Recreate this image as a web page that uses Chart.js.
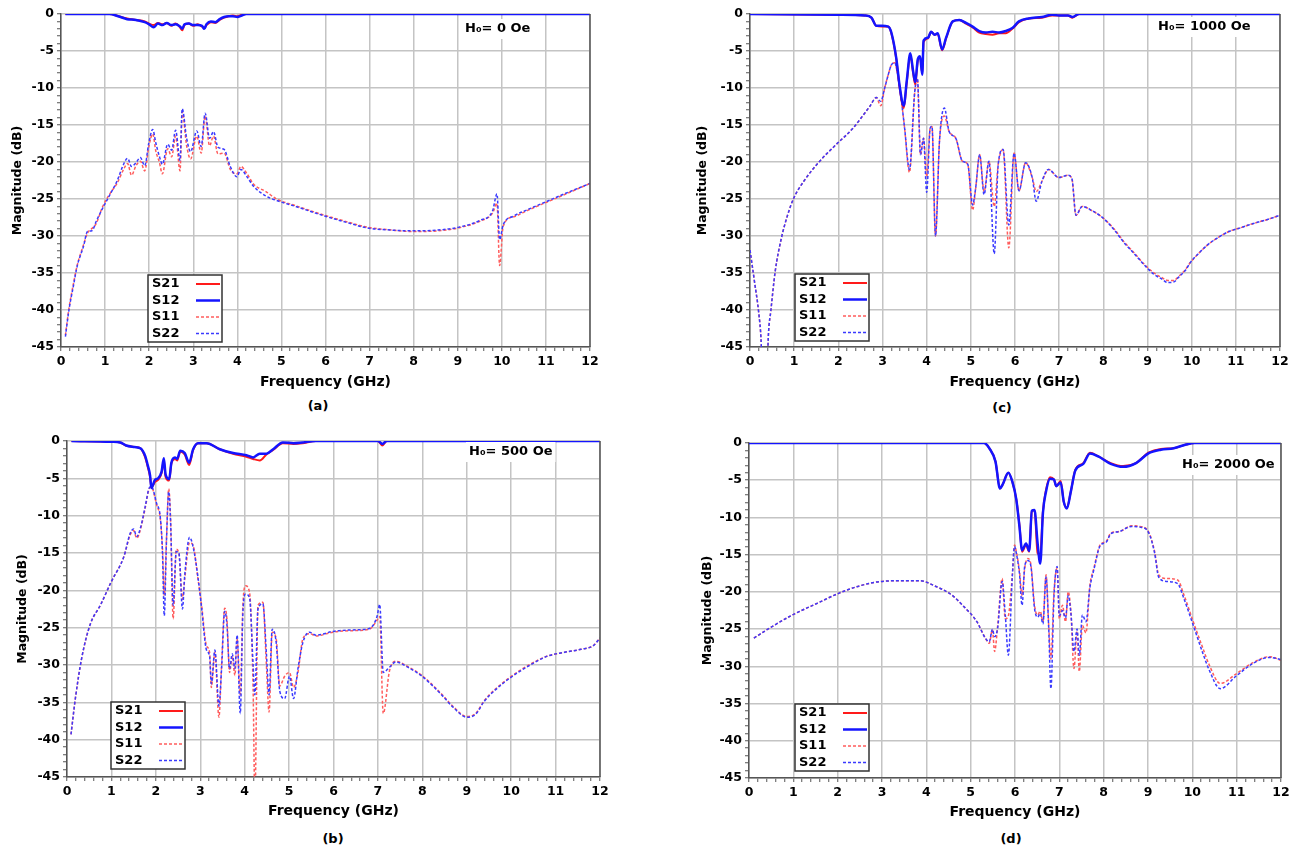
<!DOCTYPE html>
<html>
<head>
<meta charset="utf-8">
<script src="https://cdn.jsdelivr.net/npm/chart.js@4.4.0/dist/chart.umd.min.js"></script>
<style>
  body { margin: 0; background: #fff; width: 1315px; height: 851px; position: relative; overflow: hidden; }
  canvas { position: absolute; }
  .cap { position: absolute; font: bold 13px 'DejaVu Sans', sans-serif; color: #000; transform: translate(-50%, -50%); }
</style>
</head>
<body>
<canvas id="chartA"></canvas>
<canvas id="chartB"></canvas>
<canvas id="chartC"></canvas>
<canvas id="chartD"></canvas>
<div class="cap" style="left:318px;top:405px">(a)</div>
<div class="cap" style="left:1002px;top:407px">(c)</div>
<div class="cap" style="left:333px;top:838px">(b)</div>
<div class="cap" style="left:1011px;top:838px">(d)</div>
<script>
// ── Datos ─────────────────────────────────────────────────────────────────────

const seriesLabels = ["S21", "S12", "S11", "S22"];

// (a) H0 = 0 Oe
const freqT_a = [0.1, 1.1, 1.3, 1.5, 1.7, 1.9, 2.0, 2.1, 2.2, 2.3, 2.4, 2.5, 2.6, 2.7, 2.75, 2.8, 2.9, 3.0, 3.1, 3.2, 3.25, 3.3, 3.4, 3.5, 3.6, 3.7, 3.8, 3.9, 4.0, 4.1, 4.2, 12];
const s21_a   = [0, 0, -0.3, -0.6, -0.8, -1.0, -1.3, -1.5, -1.2, -1.4, -1.2, -1.6, -1.3, -1.8, -2.2, -1.5, -1.3, -1.6, -1.4, -1.7, -1.9, -1.5, -1.1, -1.2, -0.8, -0.5, -0.3, -0.2, -0.3, -0.1, 0, 0];
const s12_a   = [0, 0, -0.3, -0.7, -0.8, -1.1, -1.4, -1.8, -1.3, -1.5, -1.2, -1.5, -1.4, -1.7, -2.0, -1.4, -1.3, -1.5, -1.5, -1.6, -2.0, -1.4, -1.0, -1.1, -0.7, -0.4, -0.3, -0.3, -0.4, -0.2, 0, 0];
const freqR_a = [0.1, 0.18, 0.28, 0.37, 0.51, 0.6, 0.7, 0.8, 0.94, 1.13, 1.27, 1.42, 1.51, 1.6, 1.7, 1.8, 1.9, 1.99, 2.08, 2.15, 2.23, 2.3, 2.42, 2.51, 2.6, 2.7, 2.75, 2.85, 2.94, 3.08, 3.18, 3.27, 3.37, 3.46, 3.56, 3.7, 3.84, 3.99, 4.08, 4.22, 4.37, 4.65, 4.89, 5.32, 5.98, 6.5, 6.94, 7.5, 7.98, 8.55, 9.03, 9.5, 9.79, 9.89, 9.95, 10.03, 10.27, 10.6, 11.03, 11.5, 12];
const s11_a   = [-43.4, -39.8, -36.5, -33.9, -31.2, -29.6, -29.0, -28.3, -26.1, -24.1, -22.9, -21.0, -20.2, -21.8, -20.5, -19.9, -21.2, -18.0, -16.2, -18.5, -20.0, -21.6, -18.2, -19.3, -16.5, -21.2, -13.2, -17.8, -19.6, -16.5, -18.8, -13.8, -17.8, -16.5, -18.9, -18.8, -21.0, -21.6, -20.6, -21.6, -23.0, -24.0, -25.0, -25.9, -27.2, -28.1, -28.8, -29.2, -29.4, -29.3, -28.9, -28.0, -26.9, -25.6, -34.0, -28.7, -27.4, -26.5, -25.4, -24.2, -22.9];
const s22_a   = [-43.6, -40.0, -36.8, -34.0, -31.4, -29.4, -29.3, -28.0, -26.3, -24.2, -22.6, -20.3, -19.5, -20.6, -20.1, -19.4, -20.5, -17.5, -15.6, -17.4, -19.2, -20.3, -17.6, -18.4, -15.7, -19.8, -12.8, -16.8, -18.6, -15.8, -17.9, -13.4, -16.8, -15.9, -18.0, -18.3, -20.6, -22.0, -21.0, -22.0, -23.3, -24.6, -25.2, -26.0, -27.3, -28.2, -28.9, -29.2, -29.3, -29.2, -28.8, -27.9, -26.6, -24.3, -30.5, -28.5, -27.3, -26.4, -25.3, -24.1, -22.9];

// (c) H0 = 1000 Oe
const freqT_c = [0, 2.0, 2.6, 2.75, 2.86, 2.98, 3.13, 3.2, 3.31, 3.39, 3.48, 3.55, 3.63, 3.69, 3.74, 3.8, 3.85, 3.9, 3.93, 4.03, 4.1, 4.18, 4.25, 4.35, 4.44, 4.59, 4.74, 4.89, 5.04, 5.19, 5.34, 5.49, 5.64, 5.79, 5.94, 6.09, 6.31, 6.61, 6.84, 7.0, 7.2, 7.3, 7.45, 12];
const s21_c   = [0, -0.1, -0.2, -0.5, -1.6, -1.7, -1.7, -2.6, -6.0, -10.0, -12.7, -9.2, -5.5, -7.8, -9.5, -6.3, -5.8, -8.0, -3.8, -3.3, -2.4, -2.8, -2.7, -4.9, -3.3, -1.0, -0.8, -1.3, -1.8, -2.5, -2.7, -2.8, -2.6, -2.6, -2.0, -1.1, -0.6, -0.5, -0.2, -0.2, -0.2, -0.5, 0, 0];
const s12_c   = [0, -0.1, -0.2, -0.5, -1.6, -1.6, -1.7, -2.5, -5.9, -9.8, -12.4, -9.0, -5.3, -7.6, -9.2, -6.1, -5.7, -8.2, -3.6, -3.2, -2.4, -2.8, -2.6, -4.8, -3.2, -1.0, -0.8, -1.2, -1.7, -2.3, -2.5, -2.4, -2.5, -2.3, -1.9, -1.0, -0.6, -0.4, -0.1, -0.2, -0.2, -0.4, 0, 0];
const freqR_c = [0, 0.1, 0.2, 0.25, 0.3, 0.36, 0.42, 0.47, 0.57, 0.71, 0.85, 0.99, 1.23, 1.56, 1.94, 2.32, 2.71, 2.86, 2.96, 3.05, 3.13, 3.2, 3.28, 3.33, 3.43, 3.5, 3.61, 3.73, 3.79, 3.86, 3.93, 4.0, 4.08, 4.12, 4.2, 4.29, 4.4, 4.51, 4.66, 4.81, 4.93, 5.04, 5.11, 5.2, 5.3, 5.41, 5.53, 5.62, 5.73, 5.86, 5.98, 6.09, 6.24, 6.39, 6.48, 6.61, 6.76, 6.99, 7.2, 7.29, 7.38, 7.52, 7.75, 8.0, 8.25, 8.47, 8.7, 8.94, 9.15, 9.32, 9.46, 9.6, 9.7, 9.85, 9.98, 10.15, 10.36, 10.6, 10.84, 11.1, 11.4, 11.7, 12];
const s11_c   = [-31.9, -36.1, -40.5, -44, -52, -52, -43, -40.2, -34.8, -30.3, -27.2, -24.9, -22.5, -20.0, -17.7, -15.5, -12.5, -11.3, -12.4, -10.0, -8.2, -6.9, -6.6, -7.8, -11.8, -15.4, -21.4, -10.5, -8.7, -19.0, -16.8, -22.0, -15.4, -15.2, -30.0, -17.2, -13.8, -15.9, -16.8, -19.9, -20.3, -26.5, -23.5, -19.0, -24.0, -19.9, -26.0, -20.3, -18.3, -31.6, -18.8, -23.9, -20.1, -22.1, -24.0, -22.6, -21.0, -22.1, -21.8, -22.3, -27.2, -26.0, -26.6, -27.6, -29.1, -30.8, -32.3, -33.9, -35.0, -35.6, -36.0, -36.0, -35.5, -34.6, -33.5, -32.4, -31.2, -30.2, -29.4, -28.9, -28.3, -27.8, -27.2];
const s22_c   = [-31.9, -36.1, -40.5, -44, -52, -52, -43, -40.2, -34.8, -30.3, -27.2, -24.9, -22.5, -20.0, -17.7, -15.5, -12.5, -11.3, -11.8, -10.0, -8.2, -6.9, -6.6, -7.8, -11.8, -15.4, -21.0, -10.5, -8.7, -19.0, -16.8, -24.1, -15.4, -15.2, -30.0, -17.2, -12.7, -15.9, -16.8, -19.9, -20.3, -25.8, -23.5, -19.0, -24.4, -19.9, -32.4, -20.3, -18.3, -28.5, -18.8, -23.9, -20.1, -22.1, -25.3, -22.6, -21.0, -22.1, -21.8, -22.3, -27.2, -26.0, -26.6, -27.6, -29.2, -30.9, -32.4, -34.0, -35.2, -35.8, -36.3, -36.2, -35.6, -34.7, -33.5, -32.4, -31.2, -30.2, -29.4, -28.9, -28.3, -27.8, -27.2];

// (b) H0 = 500 Oe
const freqT_b = [0.1, 1.0, 1.2, 1.33, 1.52, 1.66, 1.76, 1.82, 1.87, 1.9, 1.98, 2.05, 2.13, 2.18, 2.22, 2.3, 2.35, 2.43, 2.48, 2.55, 2.65, 2.75, 2.84, 2.95, 3.14, 3.44, 3.74, 4.04, 4.19, 4.34, 4.49, 4.64, 4.86, 5.1, 5.3, 5.6, 7.0, 7.1, 7.2, 12];
const s21_b   = [0, -0.1, -0.2, -0.6, -0.8, -1.0, -2.2, -3.5, -4.8, -6.2, -5.5, -5.2, -4.3, -2.6, -4.8, -5.3, -3.0, -2.4, -2.6, -1.4, -1.8, -3.2, -1.2, -0.3, -0.3, -1.1, -1.7, -2.1, -2.4, -2.6, -1.8, -1.2, -0.3, -0.4, -0.3, 0, 0, -0.6, 0, 0];
const s12_b   = [0, -0.1, -0.2, -0.6, -0.8, -1.0, -2.0, -3.3, -4.6, -6.3, -5.2, -5.0, -4.1, -2.3, -4.5, -5.1, -2.9, -2.2, -2.4, -1.3, -1.6, -2.9, -1.1, -0.3, -0.3, -1.1, -1.6, -1.9, -2.2, -1.7, -1.7, -1.1, -0.2, -0.3, -0.2, 0, 0, -0.4, 0, 0];
const freqR_b = [0.09, 0.19, 0.33, 0.52, 0.76, 1.0, 1.28, 1.42, 1.5, 1.57, 1.66, 1.76, 1.85, 1.9, 2.02, 2.1, 2.15, 2.19, 2.24, 2.29, 2.33, 2.39, 2.46, 2.52, 2.6, 2.65, 2.76, 2.84, 2.95, 3.03, 3.14, 3.21, 3.25, 3.33, 3.42, 3.48, 3.55, 3.6, 3.66, 3.72, 3.78, 3.83, 3.9, 3.96, 4.02, 4.11, 4.19, 4.23, 4.3, 4.41, 4.49, 4.55, 4.62, 4.71, 4.79, 4.9, 5.01, 5.1, 5.2, 5.31, 5.46, 5.61, 5.99, 6.44, 6.81, 6.98, 7.04, 7.12, 7.26, 7.4, 7.7, 7.97, 8.2, 8.45, 8.7, 9.0, 9.2, 9.39, 9.65, 9.96, 10.4, 10.82, 11.2, 11.57, 11.85, 12];
const s11_b   = [-39.3, -34.4, -29.1, -24.6, -21.9, -18.8, -15.5, -12.6, -12.0, -13.0, -11.7, -9.0, -6.4, -6.2, -8.6, -10.4, -14.5, -20.7, -13.1, -6.4, -10.0, -23.8, -14.5, -15.1, -21.2, -18.5, -13.6, -14.0, -18.5, -22.0, -27.4, -28.3, -33.0, -28.3, -37.0, -30.1, -22.4, -23.8, -31.0, -28.8, -31.4, -26.5, -34.0, -22.0, -19.4, -20.3, -33.2, -48.0, -22.0, -21.6, -30.1, -36.3, -25.6, -26.5, -32.8, -31.5, -31.0, -33.0, -31.0, -26.5, -25.8, -26.1, -25.6, -25.4, -25.2, -24.0, -23.5, -36.5, -30.8, -29.5, -30.3, -31.3, -32.5, -34.0, -35.6, -36.9, -36.5, -34.8, -33.2, -31.7, -30.0, -28.8, -28.3, -27.9, -27.4, -26.4];
const s22_b   = [-39.3, -34.4, -29.1, -24.6, -21.9, -18.8, -15.5, -12.4, -11.8, -12.8, -11.5, -8.8, -6.3, -6.1, -8.4, -10.2, -15.0, -23.4, -13.3, -6.8, -10.5, -22.0, -14.8, -15.0, -22.5, -18.0, -12.9, -14.2, -18.3, -22.3, -28.0, -28.8, -32.5, -28.0, -35.5, -30.5, -22.8, -24.5, -30.5, -28.5, -30.5, -26.0, -36.5, -23.0, -20.5, -21.0, -30.0, -34.0, -22.5, -21.8, -28.5, -34.0, -25.2, -27.0, -33.5, -34.5, -31.5, -34.5, -30.5, -27.0, -25.6, -26.0, -25.5, -25.3, -25.1, -23.5, -21.9, -31.0, -30.3, -29.6, -30.4, -31.4, -32.6, -34.1, -35.7, -37.0, -36.6, -34.9, -33.3, -31.8, -30.1, -28.8, -28.3, -27.9, -27.4, -26.4];

// (d) H0 = 2000 Oe
const freqT_d = [0, 5.3, 5.42, 5.56, 5.66, 5.72, 5.85, 5.94, 6.03, 6.1, 6.16, 6.25, 6.32, 6.38, 6.44, 6.51, 6.57, 6.63, 6.7, 6.79, 6.88, 6.93, 7.03, 7.1, 7.17, 7.26, 7.36, 7.54, 7.69, 7.88, 8.16, 8.44, 8.73, 9.01, 9.29, 9.58, 9.86, 10.05, 12];
const s21_d   = [0, 0, -0.7, -2.5, -6.1, -5.6, -4.0, -5.2, -7.6, -11.0, -14.6, -13.7, -14.6, -9.2, -9.0, -14.8, -15.0, -9.2, -6.3, -4.6, -4.9, -5.8, -5.1, -7.9, -8.7, -6.5, -3.6, -2.7, -1.3, -1.8, -2.7, -3.1, -2.7, -1.3, -0.8, -0.7, -0.2, 0, 0];
const s12_d   = [0, 0, -0.7, -2.5, -6.1, -5.6, -4.0, -5.2, -7.6, -11.2, -14.4, -13.5, -14.5, -9.1, -9.0, -13.5, -16.2, -9.4, -6.5, -4.8, -4.9, -5.8, -5.3, -7.9, -8.8, -6.5, -3.7, -2.8, -1.4, -1.8, -2.8, -3.2, -2.7, -1.4, -0.9, -0.7, -0.2, 0, 0];
const freqR_d = [0.11, 0.51, 0.98, 1.55, 2.02, 2.49, 2.97, 3.44, 3.86, 4.19, 4.57, 4.85, 5.14, 5.33, 5.42, 5.49, 5.54, 5.61, 5.71, 5.78, 5.85, 5.94, 5.99, 6.03, 6.1, 6.16, 6.22, 6.29, 6.36, 6.44, 6.51, 6.57, 6.63, 6.7, 6.76, 6.81, 6.88, 6.95, 7.0, 7.07, 7.14, 7.2, 7.26, 7.33, 7.4, 7.45, 7.52, 7.6, 7.69, 7.78, 7.92, 8.06, 8.16, 8.35, 8.63, 8.82, 9.01, 9.15, 9.24, 9.43, 9.67, 9.81, 10.05, 10.24, 10.38, 10.63, 10.99, 11.37, 11.75, 12];
const s11_d   = [-26.2, -24.7, -23.1, -21.5, -20.2, -19.2, -18.6, -18.5, -18.5, -19.2, -20.4, -22.0, -24.0, -26.2, -26.9, -25.1, -28.0, -24.5, -18.2, -23.6, -23.2, -17.7, -13.7, -14.6, -17.2, -20.5, -16.8, -15.5, -16.4, -21.8, -23.1, -22.6, -24.0, -17.7, -24.5, -29.0, -20.0, -16.8, -23.6, -21.8, -24.0, -20.0, -22.6, -30.3, -25.3, -30.7, -24.5, -25.5, -19.1, -16.8, -13.7, -13.2, -12.1, -11.9, -11.1, -11.2, -11.9, -14.6, -17.7, -18.2, -18.4, -20.4, -24.5, -27.6, -29.8, -32.3, -31.0, -29.5, -28.7, -29.2];
const s22_d   = [-26.2, -24.7, -23.1, -21.5, -20.2, -19.2, -18.6, -18.5, -18.5, -19.2, -20.4, -22.0, -24.0, -26.2, -26.7, -25.0, -26.0, -24.8, -18.6, -23.0, -28.5, -17.9, -13.9, -14.8, -17.5, -21.8, -16.5, -15.8, -16.6, -22.2, -23.4, -22.9, -24.3, -18.0, -24.8, -33.0, -20.5, -16.6, -23.2, -22.5, -23.5, -20.5, -22.8, -28.0, -25.0, -28.5, -23.1, -24.0, -19.4, -17.0, -13.8, -13.3, -12.2, -11.9, -11.2, -11.3, -12.0, -14.8, -18.0, -18.6, -18.9, -20.9, -25.0, -28.3, -30.5, -33.0, -31.3, -29.6, -28.8, -29.1];

// ── Helpers ───────────────────────────────────────────────────────────────────

const FONT  = "'DejaVu Sans', sans-serif";
const isInt = v => Math.abs(v - Math.round(v)) < 1e-6;
const pts   = (f, v) => f.map((x, i) => ({ x, y: v[i] }));

// marco derecho, nota H0 y leyenda dentro del área
const framePlugin = {
    id: "frame",
    afterDatasetsDraw(chart, args, opts) {
        const { ctx, chartArea: a } = chart;
        ctx.save();
        ctx.strokeStyle = "#555";
        ctx.lineWidth   = 1.5;
        ctx.beginPath();
        ctx.moveTo(a.right, a.top);
        ctx.lineTo(a.right, a.bottom);
        ctx.stroke();

        // nota
        ctx.font         = "bold 13px " + FONT;
        ctx.textBaseline = "middle";
        ctx.textAlign    = "left";
        const nx = a.left + opts.note[0];
        const ny = a.top  + opts.note[1];
        const nw = ctx.measureText(opts.noteText).width;
        ctx.fillStyle = "#fff";
        ctx.fillRect(nx - 3, ny - 10, nw + 6, 20);
        ctx.fillStyle = "#000";
        ctx.fillText(opts.noteText, nx, ny);

        // leyenda
        const lx = a.left + opts.legend[0];
        const ly = a.top  + opts.legend[1];
        ctx.fillStyle = "#fff";
        ctx.fillRect(lx, ly, 74, 67);
        ctx.strokeStyle = "#333";
        ctx.lineWidth   = 1.5;
        ctx.strokeRect(lx, ly, 74, 67);
        chart.data.datasets.forEach((ds, i) => {
            const ry = ly + 9 + i * 16.5;
            ctx.fillStyle = "#000";
            ctx.fillText(ds.label, lx + 4, ry);
            ctx.strokeStyle = ds.borderColor;
            ctx.lineWidth   = ds.borderWidth;
            ctx.setLineDash(ds.borderDash || []);
            ctx.beginPath();
            ctx.moveTo(lx + 48, ry);
            ctx.lineTo(lx + 72, ry);
            ctx.stroke();
            ctx.setLineDash([]);
        });
        ctx.restore();
    }
};

function makeChart(p) {
    const cl = Math.round(p.yt - 17.5);
    const ct = p.T - 14;
    const w  = p.R + 30 - cl;
    const h  = Math.round(p.xt + 8.4) - ct;
    const cv = document.getElementById(p.id);
    cv.width  = w;
    cv.height = h;
    cv.style.left = cl + "px";
    cv.style.top  = ct + "px";
    const yW = p.L - cl - 10;
    const xH = h + ct - p.B;

    const tickFont = { family: FONT, size: 12.5, weight: "bold" };

    new Chart(cv, {
        type: "line",
        data: {
            datasets: [
                { label: seriesLabels[0], data: pts(p.fT, p.s21), borderColor: "#ff1a1a", borderWidth: 2,   order: 1 },
                { label: seriesLabels[1], data: pts(p.fT, p.s12), borderColor: "#1414ff", borderWidth: 2.5, order: 0 },
                { label: seriesLabels[2], data: pts(p.fR, p.s11), borderColor: "#ff5c5c", borderWidth: 1.5, borderDash: [3, 2], order: 3 },
                { label: seriesLabels[3], data: pts(p.fR, p.s22), borderColor: "#3a3aff", borderWidth: 1.5, borderDash: [3, 2], order: 2 }
            ]
        },
        options: {
            responsive: false,
            animation: false,
            devicePixelRatio: 1,
            elements: { point: { radius: 0 }, line: { cubicInterpolationMode: "monotone" } },
            layout: { padding: { left: 10, top: 14, right: 30, bottom: 0 } },
            plugins: {
                legend:  { display: false },
                tooltip: { enabled: false },
                frame:   { legend: p.legend, note: p.note, noteText: p.noteText }
            },
            scales: {
                x: {
                    type: "linear", min: 0, max: 12,
                    afterFit: s => { s.height = xH; },
                    ticks: {
                        stepSize: 0.2, autoSkip: false, maxRotation: 0, minRotation: 0,
                        padding: 3, color: "#000", font: tickFont,
                        callback: v => isInt(v) ? String(Math.round(v)) : ""
                    },
                    grid: {
                        color: c => (c.tick && isInt(c.tick.value)) ? "#c4c4c4" : "rgba(0,0,0,0)",
                        lineWidth: 1.5, tickColor: "#555", tickLength: 4, tickWidth: 1
                    },
                    border: { color: "#555", width: 1.5 },
                    title: { display: true, text: "Frequency (GHz)", color: "#000", padding: 0,
                             font: { family: FONT, size: 14, weight: "bold" } }
                },
                y: {
                    type: "linear", min: -45, max: 0,
                    afterFit: s => { s.width = yW; },
                    ticks: {
                        stepSize: 1, autoSkip: false, padding: 3, color: "#000", font: tickFont,
                        callback: v => (Math.round(v) % 5 === 0) ? String(Math.round(v)) : ""
                    },
                    grid: {
                        color: c => (c.tick && Math.round(c.tick.value) % 5 === 0) ? "#c4c4c4" : "rgba(0,0,0,0)",
                        lineWidth: 1.5, tickColor: "#555", tickLength: 4, tickWidth: 1
                    },
                    border: { color: "#555", width: 1.5 },
                    title: { display: true, text: "Magnitude (dB)", color: "#000", padding: 0,
                             font: { family: FONT, size: 12.5, weight: "bold" } }
                }
            }
        },
        plugins: [framePlugin]
    });
}

makeChart({ id: "chartA", L: 61,  R: 590,  T: 14,  B: 347, yt: 17,  xt: 383,
            legend: [87, 261], note: [404, 15], noteText: "H₀= 0 Oe",
            fT: freqT_a, s21: s21_a, s12: s12_a, fR: freqR_a, s11: s11_a, s22: s22_a });
makeChart({ id: "chartC", L: 750, R: 1280, T: 14,  B: 347, yt: 702, xt: 383,
            legend: [45, 260], note: [408, 13], noteText: "H₀= 1000 Oe",
            fT: freqT_c, s21: s21_c, s12: s12_c, fR: freqR_c, s11: s11_c, s22: s22_c });
makeChart({ id: "chartB", L: 67,  R: 600,  T: 441, B: 777, yt: 22,  xt: 812,
            legend: [44, 261], note: [402, 11], noteText: "H₀= 500 Oe",
            fT: freqT_b, s21: s21_b, s12: s12_b, fR: freqR_b, s11: s11_b, s22: s22_b });
makeChart({ id: "chartD", L: 749, R: 1281, T: 443, B: 778, yt: 707, xt: 813,
            legend: [46, 261], note: [433, 22], noteText: "H₀= 2000 Oe",
            fT: freqT_d, s21: s21_d, s12: s12_d, fR: freqR_d, s11: s11_d, s22: s22_d });
</script>
</body>
</html>
